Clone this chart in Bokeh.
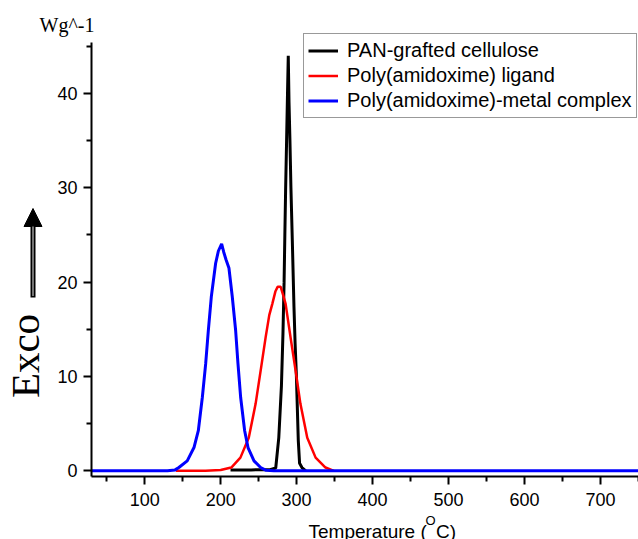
from math import pi
from bokeh.plotting import figure
from bokeh.models import (Range1d, FixedTicker, Label, Arrow, NormalHead,
                          Legend, LegendItem)
from bokeh.embed import file_html
from bokeh.resources import INLINE

# ---- data (Temperature in degC, Exco in W/g) ----
pan_x = [213, 240, 265, 272.5, 276.5, 280, 282, 283.5, 284.5, 285.5, 286.8,
         288, 289, 290, 291.2, 292.5, 294.3, 296.5, 298, 299.6, 302.2, 303.9,
         307, 312]
pan_y = [0.1, 0.1, 0.12, 0.3, 3.5, 9, 14.5, 20, 25, 29.7, 35,
         40, 44, 39, 35, 30, 24.5, 17.4, 13.5, 10.3, 3.2, 0.8,
         0.35, 0]

lig_x = [141, 180, 200, 214, 226, 237, 246, 252.6, 259.2, 264, 268, 272,
         275, 279, 282, 285.5, 292, 298.7, 305, 314, 325, 338, 349]
lig_y = [0, 0.02, 0.08, 0.35, 1.4, 3.5, 7.1, 10.6, 14.15, 16.5, 17.7, 19.0,
         19.5, 19.5, 18.7, 17.7, 14.15, 10.6, 7.1, 3.5, 1.4, 0.35, 0]

cpx_x = [30, 130, 140, 145, 156, 164.9, 170.6, 175.9, 180.3, 183.8, 187.7,
         193.4, 197, 201.3, 204, 207, 210.9, 215.3, 219.7, 222.8, 226.3,
         231.6, 236, 243.9, 252.6, 260, 270, 750]
cpx_y = [0, 0, 0.1, 0.35, 1.06, 2.47, 4.25, 7.8, 11.36, 14.9, 18.45,
         22.0, 23.3, 24.07, 23.2, 22.4, 21.5, 18.45, 14.9, 11.36, 7.8,
         4.25, 2.47, 1.06, 0.35, 0.05, 0, 0]

series_names = ["PAN-grafted cellulose", "Poly(amidoxime) ligand",
                "Poly(amidoxime)-metal complex"]
series_colors = ["black", "#ff0000", "#0000ff"]

x_major = [100, 200, 300, 400, 500, 600, 700]
x_minor = [50, 150, 250, 350, 450, 550, 650, 750]
y_major = [0, 10, 20, 30, 40]
y_minor = [5, 15, 25, 35, 45]

# axis extents (data)
X0, X1 = 30, 750
Y0, Y1 = -0.6, 45.4

# the frame fills the whole canvas; axes sit at fixed locations inside it
W, H = 638, 539
AX_L, AX_R, AX_T, AX_B = 91, 638, 42, 476   # pixel box of the axes
sx = (X1 - X0) / (AX_R - AX_L)
sy = (Y1 - Y0) / (AX_B - AX_T)
XL = X0 - AX_L * sx
XR = X0 + (W - AX_L) * sx
YT = Y1 + AX_T * sy
YB = Y1 - (H - AX_T) * sy


def dx(px):
    return XL + px * sx


def dy(py):
    return YT - py * sy


p = figure(width=W, height=H, output_backend="svg", toolbar_location=None,
           x_range=Range1d(XL, XR), y_range=Range1d(YB, YT),
           min_border=0, min_border_left=0, min_border_right=0,
           min_border_top=0, min_border_bottom=0)
p.title.visible = False
p.outline_line_color = None
p.background_fill_color = "white"
p.border_fill_color = "white"
p.xgrid.visible = False
p.ygrid.visible = False

p.xaxis[0].fixed_location = Y0
p.xaxis[0].bounds = (X0, X1)
p.yaxis[0].fixed_location = X0
p.yaxis[0].bounds = (Y0, Y1)

for ax, maj, mnr in ((p.xaxis[0], x_major, x_minor), (p.yaxis[0], y_major, y_minor)):
    ax.ticker = FixedTicker(ticks=maj, minor_ticks=mnr)
    ax.axis_line_width = 2
    ax.axis_line_color = "black"
    ax.major_tick_line_width = 2
    ax.minor_tick_line_width = 2
    ax.major_tick_line_color = "black"
    ax.minor_tick_line_color = "black"
    ax.major_tick_in = 0
    ax.major_tick_out = 8
    ax.minor_tick_in = 0
    ax.minor_tick_out = 5
    ax.major_label_text_font = "Liberation Sans"
    ax.major_label_text_font_size = "18px"
    ax.major_label_text_color = "black"
p.xaxis.major_label_standoff = 8
p.yaxis.major_label_standoff = 6

widths = [3, 2.5, 3]
rs = []
for xs, ys, c, w in ((pan_x, pan_y, series_colors[0], widths[0]),
                     (lig_x, lig_y, series_colors[1], widths[1]),
                     (cpx_x, cpx_y, series_colors[2], widths[2])):
    rs.append(p.line(xs, ys, line_color=c, line_width=w))

legend = Legend(items=[LegendItem(label=n, renderers=[r]) for n, r in zip(series_names, rs)],
                location=(303, H - 117.5), padding=4, spacing=0, margin=0,
                glyph_width=30, glyph_height=25, label_height=25,
                label_standoff=9, label_text_font="Liberation Sans",
                label_text_font_size="20px", label_text_color="black",
                border_line_color="#333333", border_line_width=1.5,
                background_fill_alpha=1.0)
p.add_layout(legend, "center")

p.add_layout(Label(x=dx(39), y=dy(24), text="Wg^-1", text_font="Liberation Serif",
                   text_font_size="20px", text_align="left", text_baseline="alphabetic",
                   text_color="black"))
p.add_layout(Label(x=dx(24), y=dy(355.5), text="Exco", angle=pi / 2,
                   text_font="Liberation Serif", text_font_size="41px",
                   text_align="center", text_baseline="alphabetic", text_color="black"))
p.add_layout(Label(x=dx(308), y=dy(530.5), text="Temperature (", text_font="Liberation Sans",
                   text_font_size="19px", text_align="left", text_baseline="alphabetic",
                   text_color="black"))
p.add_layout(Label(x=dx(425), y=dy(519.5), text="O", text_font="Liberation Sans",
                   text_font_size="13px", text_align="left", text_baseline="alphabetic",
                   text_color="black"))
p.add_layout(Label(x=dx(435.5), y=dy(530.5), text="C)", text_font="Liberation Sans",
                   text_font_size="19px", text_align="left", text_baseline="alphabetic",
                   text_color="black"))

p.add_layout(Arrow(end=NormalHead(size=18, fill_color="black", line_color="black"),
                   x_start=dx(32.5), y_start=dy(297), x_end=dx(32.5), y_end=dy(208),
                   line_width=5, line_color="black"))
p.add_layout(Arrow(end=None, x_start=dx(32.5), y_start=dy(295.5), x_end=dx(32.5),
                   y_end=dy(226), line_width=1.5, line_color="#9a9a9a"))

open("out.html", "w").write(file_html(p, INLINE))
